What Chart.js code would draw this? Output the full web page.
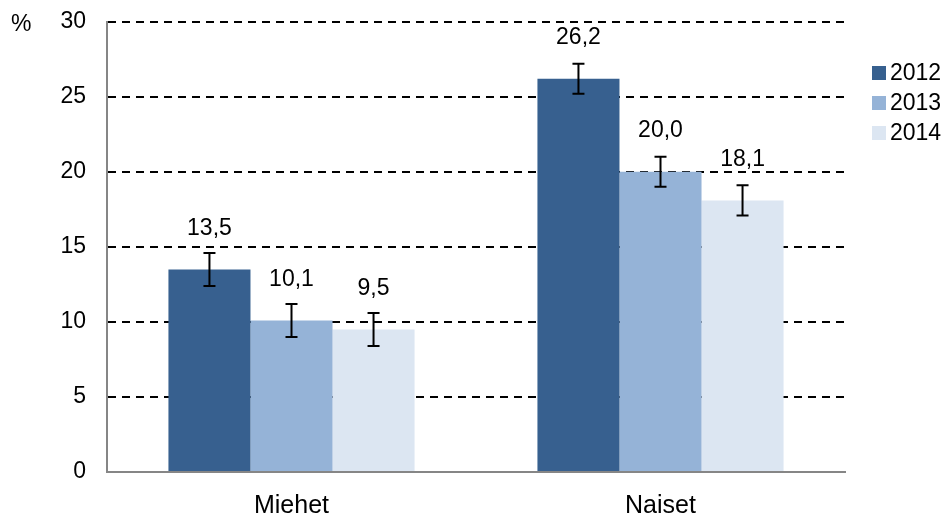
<!DOCTYPE html>
<html lang="fi">
<head>
  <meta charset="UTF-8" />
  <title>Miehet / Naiset 2012-2014</title>
  <script src="https://cdn.jsdelivr.net/npm/chart.js"></script>
  <style>
    html, body { margin: 0; padding: 0; background: #fff; }
    #wrap { position: relative; width: 945px; height: 513px; }
  </style>
</head>
<body>
  <div id="wrap"><canvas id="chart" width="945" height="513"></canvas></div>

  <script>
    // data
    const categories = ['Miehet', 'Naiset'];
    const years = ['2012', '2013', '2014'];
    const values2012 = [13.5, 26.2];
    const values2013 = [10.1, 20.0];
    const values2014 = [9.5, 18.1];
    // confidence interval (low, high) per bar
    const low2012 = [12.4, 25.2];
    const high2012 = [14.6, 27.2];
    const low2013 = [9.0, 19.0];
    const high2013 = [11.2, 21.0];
    const low2014 = [8.4, 17.1];
    const high2014 = [10.6, 19.1];
    const yTicks = [0, 5, 10, 15, 20, 25, 30];

    const colors = ['#37608F', '#95B3D7', '#DCE6F2'];
    const font = 'Liberation Sans, Arial, sans-serif';

    const seriesValues = [values2012, values2013, values2014];
    const seriesLow = [low2012, low2013, low2014];
    const seriesHigh = [high2012, high2013, high2014];

    // error bars + value labels + percent sign + legend
    const extras = {
      id: 'extras',
      afterDatasetsDraw(chart) {
        const ctx = chart.ctx;
        const y = chart.scales.y;
        ctx.save();
        chart.data.datasets.forEach((ds, di) => {
          const meta = chart.getDatasetMeta(di);
          meta.data.forEach((bar, i) => {
            const yl = y.getPixelForValue(seriesLow[di][i]);
            const yh = y.getPixelForValue(seriesHigh[di][i]);
            ctx.strokeStyle = '#000';
            ctx.lineWidth = 2;
            ctx.beginPath();
            ctx.moveTo(bar.x, yl); ctx.lineTo(bar.x, yh);
            ctx.moveTo(bar.x - 6, yl); ctx.lineTo(bar.x + 6, yl);
            ctx.moveTo(bar.x - 6, yh); ctx.lineTo(bar.x + 6, yh);
            ctx.stroke();

            ctx.fillStyle = '#000';
            ctx.font = '23px ' + font;
            ctx.textAlign = 'center';
            ctx.textBaseline = 'middle';
            const txt = ds.data[i].toFixed(1).replace('.', ',');
            ctx.fillText(txt, bar.x, bar.y - 41);
          });
        });

        ctx.font = '23px ' + font;
        ctx.textAlign = 'left';
        ctx.textBaseline = 'middle';
        ctx.fillStyle = '#000';
        ctx.fillText('%', 11, 25);

        // legend
        chart.data.datasets.forEach((ds, di) => {
          const ly = 73 + di * 30;
          ctx.fillStyle = ds.backgroundColor;
          ctx.fillRect(872, ly - 7, 14, 14);
          ctx.fillStyle = '#000';
          ctx.font = '23px ' + font;
          ctx.fillText(ds.label, 890, ly + 1);
        });
        ctx.restore();
      }
    };

    new Chart(document.getElementById('chart'), {
      type: 'bar',
      data: {
        labels: categories,
        datasets: years.map((yr, i) => ({
          label: yr,
          data: seriesValues[i],
          backgroundColor: colors[i],
          borderWidth: 0,
          categoryPercentage: 0.667,
          barPercentage: 1.0
        }))
      },
      options: {
        responsive: false,
        animation: false,
        layout: { padding: { left: 0, right: 100, top: 0, bottom: 0 } },
        plugins: {
          legend: { display: false },
          tooltip: { enabled: false }
        },
        scales: {
          x: {
            grid: { display: false },
            border: { color: '#868686', width: 2 },
            ticks: { color: '#000', font: { family: font, size: 25 }, padding: 11 },
            afterFit: s => { s.height = 41; }
          },
          y: {
            min: 0,
            max: 30,
            afterBuildTicks: s => { s.ticks = yTicks.map(v => ({ value: v })); },
            grid: {
              drawTicks: true,
              tickLength: 13,
              tickColor: 'rgba(0,0,0,0)',
              lineWidth: 2,
              color: c => (c.tick && c.tick.value === 0) ? 'rgba(0,0,0,0)' : '#000'
            },
            border: { color: '#868686', width: 2, dash: [8, 6] },
            ticks: { color: '#000', font: { family: font, size: 23 }, padding: 8 },
            afterFit: s => { s.width = 107; }
          }
        }
      },
      plugins: [extras]
    });
  </script>
</body>
</html>
